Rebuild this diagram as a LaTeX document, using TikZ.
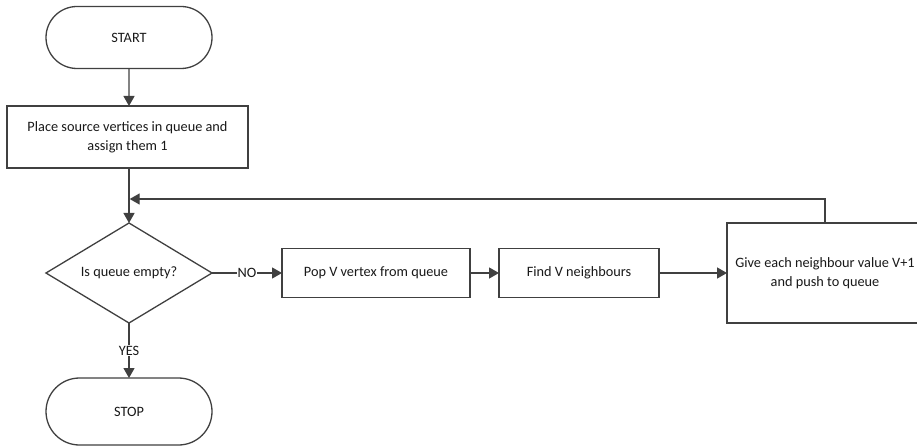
\documentclass[tikz,border=0pt]{standalone}
\usepackage{fontspec}
\setmainfont{Carlito}
\usepackage{xcolor}
\colorlet{LINECOLOR}{black!75}
\colorlet{TEXTCOLOR}{black!90}
\usepackage{tikz}
\usetikzlibrary{shapes.geometric,shapes.misc,arrows.meta,positioning,calc}
\tikzset{
  basic-style/.style = {
    draw=LINECOLOR, line width=1.3pt, fill=white,
    text=TEXTCOLOR, align=center, inner sep=0pt, outer sep=0pt,
    font=\fontsize{14.3}{19}\selectfont
  },
  term-style/.style = {
    basic-style, rounded rectangle,
    minimum width=166pt, minimum height=#1
  },
  term-style/.default = 62pt,
  proc-style/.style = {
    basic-style, rectangle,
    minimum width=#1, minimum height=49pt
  },
  decision-style/.style = {
    basic-style, diamond, aspect=1.66,
    minimum width=166pt, minimum height=100pt
  },
  label-style/.style = {
    fill=white, inner sep=1pt, text=TEXTCOLOR,
    font=\fontsize{14.3}{19}\selectfont
  },
  flow/.style = {
    draw=LINECOLOR, line width=1.3pt,
    -{Triangle[length=10pt,width=11pt]}
  }
}

\begin{document}
\begin{tikzpicture}[x=1pt,y=1pt]
    \useasboundingbox (0,0) rectangle (917,-446);

    %%% main column
    \node[term-style] (start) at (129,-37.5) {START};
    \node[proc-style=241pt,minimum height=62pt,below=37.5pt of start,xshift=-1.5pt] (place)
      {Place source vertices in queue and\\assign them 1};
    \node[decision-style,below=55pt of place,xshift=1.5pt] (check) {Is queue empty?};
    \node[term-style=67pt,below=55pt of check] (stop) {STOP};

    %%% loop body
    \node[proc-style=188pt,right=70pt of check] (pop) {Pop V vertex from queue};
    \node[proc-style=160pt,right=29pt of pop] (find) {Find V neighbours};
    \node[proc-style=196pt,minimum height=100pt,right=68pt of find] (give)
      {Give each neighbour value V+1\\and push to queue};

    % where the loop comes back in
    \coordinate (merge) at (start.south |- 0,-199);

    %%% arrows
    \draw[flow] (start) -- (start.south |- place.north);
    \draw[draw=LINECOLOR,line width=1.3pt] (start.south |- place.south) -- (merge);
    \draw[flow] (merge) -- (check.north);
    \draw[flow] (check.east) -- node[label-style]{NO} (pop.west);
    \draw[flow] (check.south) -- node[label-style]{YES} (stop.north);
    \draw[flow] (pop) -- (find);
    \draw[flow] (find) -- (give);
    % back to the test
    \draw[flow] (give.north) |- ([xshift=0.65pt]merge);
\end{tikzpicture}
\end{document}
